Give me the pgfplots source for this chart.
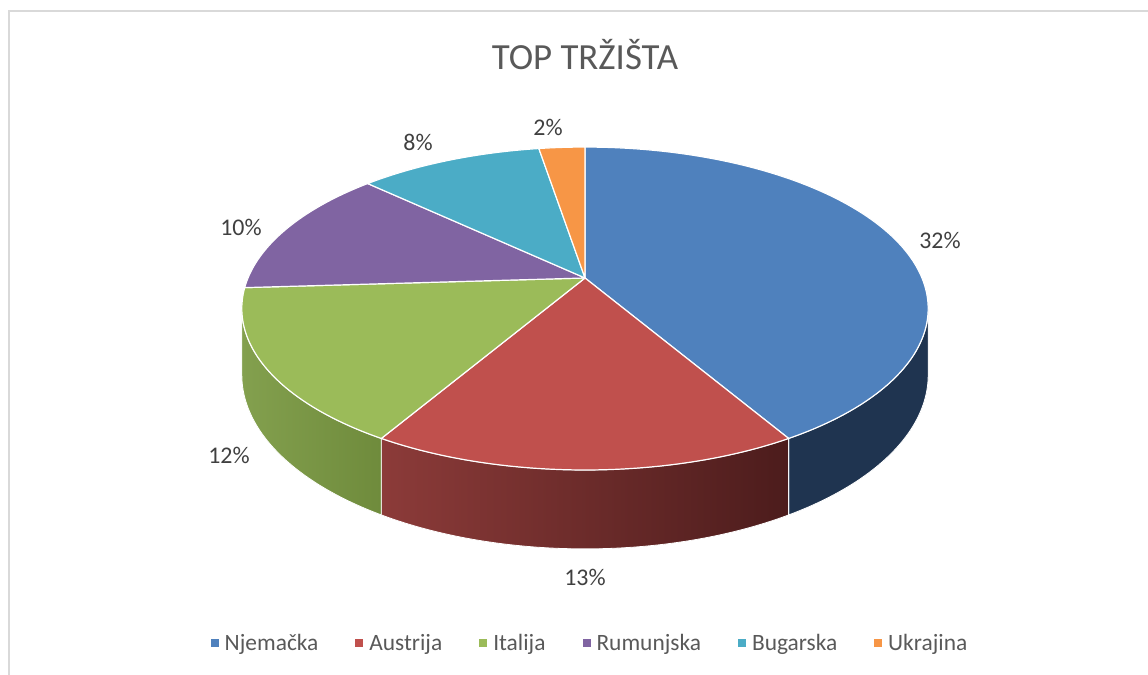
\documentclass[border=0pt]{standalone}
\usepackage{pgfplots}
\pgfplotsset{compat=1.18}
\usepackage{fontspec}
\setmainfont{Carlito}
\definecolor{cBlue}{HTML}{4F81BD}
\definecolor{cRed}{HTML}{C0504D}
\definecolor{cGreen}{HTML}{9BBB59}
\definecolor{cPurple}{HTML}{8064A2}
\definecolor{cCyan}{HTML}{4BACC6}
\definecolor{cOrange}{HTML}{F79646}
\definecolor{sBlue}{HTML}{1F3450}
\definecolor{sRedL}{HTML}{8C3B39}
\definecolor{sRedR}{HTML}{4C1C1C}
\definecolor{sGreenL}{HTML}{83A04E}
\definecolor{sGreenR}{HTML}{6F8B3C}
\definecolor{cTitle}{HTML}{595959}
\definecolor{cLabel}{HTML}{404040}
\definecolor{cFrame}{HTML}{D9D9D9}
% data
\def\vA{32}\def\vB{13}\def\vC{12}\def\vD{10}\def\vE{8}\def\vF{2}
\pgfmathsetmacro\tot{\vA+\vB+\vC+\vD+\vE+\vF}
\pgfmathsetmacro\tA{90}
\pgfmathsetmacro\tB{\tA-360*\vA/\tot}
\pgfmathsetmacro\tC{\tB-360*\vB/\tot}
\pgfmathsetmacro\tD{\tC-360*\vC/\tot}
\pgfmathsetmacro\tE{\tD-360*\vD/\tot}
\pgfmathsetmacro\tF{\tE-360*\vE/\tot}
\pgfmathsetmacro\tG{\tF-360*\vF/\tot}
\pgfmathsetmacro\tR{-asin(0.189)}
\pgfmathsetmacro\tL{-180+asin(0.189)}
\newcommand{\slicetop}[3]{%
 \addplot[fill=#1, draw=white, line width=1.2pt, line join=round, domain=0:3, samples=301, variable=\s]
 ({px(rr(\s),(#2)+((#3)-(#2))*ff(\s))},{py(rr(\s),(#2)+((#3)-(#2))*ff(\s),0)}) -- cycle;}
\newcommand{\sideseg}[3]{%
 \addplot[forget plot, #1, draw=white, line width=0.8pt, line join=round, domain=0:3, samples=301, variable=\s]
 ({px(1,(#2)+((#3)-(#2))*rr(\s))},{py(1,(#2)+((#3)-(#2))*rr(\s),64*ff(\s))}) -- cycle;}
\begin{document}
\begin{tikzpicture}[declare function={
 rr(\s)=min(\s,1)-max(\s-2,0);
 ff(\s)=min(max(\s-1,0),1);
 px(\r,\t)=585+337*\r*cos(\t)/(1+0.189*\r*sin(\t));
 py(\r,\t,\h)=397+(155.7*\r*sin(\t)-\h)/(1+0.189*\r*sin(\t));
}]
\begin{axis}[
 at={(0,0)}, anchor=south west,
 scale only axis, width=1148bp, height=675bp,
 xmin=0, xmax=1148, ymin=0, ymax=675,
 hide axis, clip=false,
 legend columns=-1,
 legend style={at={(axis cs:590,32)}, anchor=center, draw=none, fill=none,
   font=\fontsize{23.5}{28}\selectfont, text=cTitle,
   /tikz/every odd column/.append style={column sep=4bp},
   /tikz/every even column/.append style={column sep=35bp}},
 legend image code/.code={\fill[#1, draw=none] (0bp,-4bp) rectangle (8bp,4bp);},
]
\draw[cFrame, line width=2bp] (axis cs:9,0) -- (axis cs:9,664) -- (axis cs:1148,664);
% sides
\sideseg{fill=sBlue}{\tR}{\tB}
\sideseg{left color=sRedL, right color=sRedR}{\tB}{\tC}
\sideseg{left color=sGreenL, right color=sGreenR}{\tC}{\tL}
% top faces
\slicetop{cBlue}{\tA}{\tB}
\addlegendentry{Njemačka}
\slicetop{cRed}{\tB}{\tC}
\addlegendentry{Austrija}
\slicetop{cGreen}{\tC}{\tD}
\addlegendentry{Italija}
\slicetop{cPurple}{\tD}{\tE}
\addlegendentry{Rumunjska}
\slicetop{cCyan}{\tE}{\tF}
\addlegendentry{Bugarska}
\slicetop{cOrange}{\tF}{\tG}
\addlegendentry{Ukrajina}
% title and labels
\node[text=cTitle, font=\fontsize{37}{44}\selectfont] at (axis cs:585,620) {TOP TRŽIŠTA};
\begin{scope}[every node/.style={text=cLabel, font=\fontsize{24}{28}\selectfont}]
\node at (axis cs:940,435) {32\%};
\node at (axis cs:585,98) {13\%};
\node at (axis cs:229,220) {12\%};
\node at (axis cs:241,448) {10\%};
\node at (axis cs:418,533) {8\%};
\node at (axis cs:548,548) {2\%};
\end{scope}
\end{axis}
\pgfresetboundingbox
\useasboundingbox (0,0) rectangle (1148bp,675bp);
\end{tikzpicture}
\end{document}
